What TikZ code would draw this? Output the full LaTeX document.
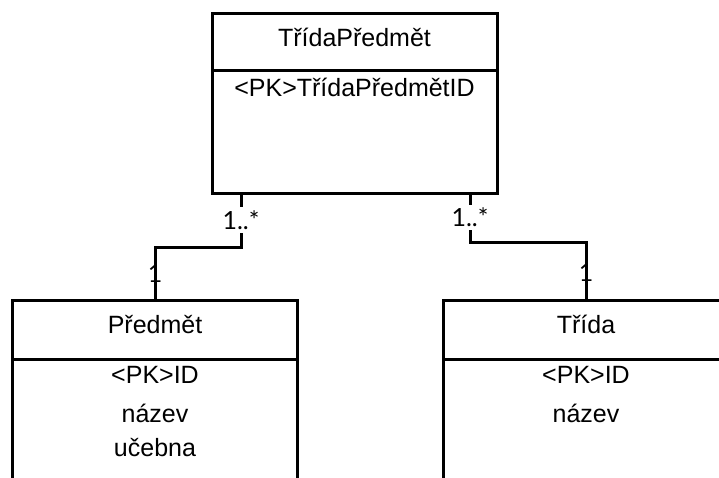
\documentclass[tikz,border=0pt]{standalone}
\usepackage{fontspec}
\setmainfont{Liberation Sans}
\newfontfamily\multfont{Lato}
\begin{document}
\begin{tikzpicture}[
			x=1pt, y=-1pt,
			line width=3pt,
			font=\fontsize{25}{30}\selectfont,
			head/.style={draw, minimum width=285pt, minimum height=57pt, inner sep=0pt, outer sep=0pt},
			body/.style={draw, minimum width=285pt, anchor=north, inner sep=0pt, outer sep=0pt},
			field/.style={anchor=base, inner sep=0pt},
			mult/.style={font=\multfont\fontsize{25}{30}\selectfont, fill=white, inner sep=3pt},
			multone/.style={font=\multfont\fontsize{25}{30}\selectfont, inner sep=0pt}
		]
		\useasboundingbox (0,0) rectangle (719,477);
		\clip (0,0) rectangle (719,477);
		% TridaPredmet
		\node[head] (tph) at (354.5,41.5) {};
		\node[body, minimum height=123pt] (tpb) at (tph.south) {};
		\node[field] (tpt) at ([yshift=-33pt]tph.north) {TřídaPředmět};
		\node[field] (tpf1) at ([yshift=-26pt]tph.south) {<PK>TřídaPředmětID};
		% Predmet
		\node[head, minimum height=59pt] (prh) at (155,329.5) {};
		\node[body, minimum height=160pt] (prb) at (prh.south) {};
		\node[field] (prt) at ([yshift=-33pt]prh.north) {Předmět};
		\node[field] (prf1) at ([yshift=-24pt]prh.south) {<PK>ID};
		\node[field] (prf2) at ([yshift=-63pt]prh.south) {název};
		\node[field] (prf3) at ([yshift=-97pt]prh.south) {učebna};
		% Trida
		\node[head, minimum height=59pt] (trh) at (586,329.5) {};
		\node[body, minimum height=160pt] (trb) at (trh.south) {};
		\node[field] (trt) at ([yshift=-33pt]trh.north) {Třída};
		\node[field] (trf1) at ([yshift=-24pt]trh.south) {<PK>ID};
		\node[field] (trf2) at ([yshift=-63pt]trh.south) {název};
		% vazby
		\draw ([xshift=29pt]tpb.south west) -- node[mult] {1..*} ++(0,54)
			-| node[multone, pos=0.75] {1} (prh.north);
		\draw ([xshift=-27pt]tpb.south east) -- node[mult] {1..*} ++(0,49)
			-| node[multone, pos=0.76] {1} (trh.north);
	\end{tikzpicture}
\end{document}
